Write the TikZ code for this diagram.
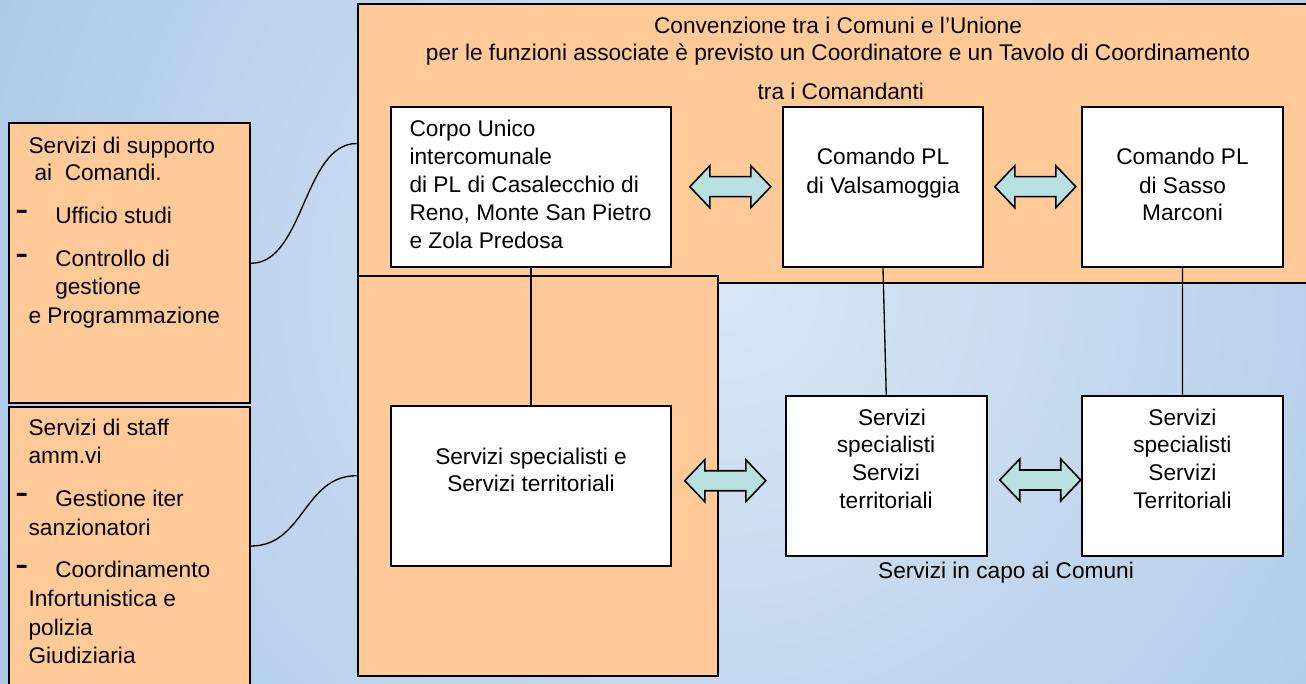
\documentclass[tikz,border=0pt]{standalone}
\usepackage{fontspec}
\setmainfont{Liberation Sans}
\usetikzlibrary{fit}
\definecolor{bgin}{HTML}{D9E7F5}
\definecolor{bgout}{HTML}{8DB3DC}
\definecolor{peach}{HTML}{FFCA97}
\definecolor{aqua}{HTML}{B8E0E1}
\tikzset{
  pbox/.style={draw=black, line width=1.5pt, inner sep=0pt, fill=peach},
  wbox/.style={draw=black, line width=1.5pt, inner sep=0pt, fill=white},
  link/.style={draw=black, line width=1pt},
  txt/.style={inner sep=0pt, font=\fontsize{17}{20}\selectfont},
  lt/.style={txt, anchor=base west},
  ct/.style={txt, anchor=base},
  bul/.style={inner sep=0pt, anchor=base west, font=\fontsize{30}{32}\selectfont},
  arr/.style={draw=black, line width=1.2pt, fill=aqua, line join=miter},
  dblarr/.pic={\path[arr] (-40.5,0) -- (-20.5,-21) -- (-20.5,-10) -- (20.5,-10) -- (20.5,-21) -- (40.5,0) -- (20.5,21) -- (20.5,10) -- (-20.5,10) -- (-20.5,21) -- cycle;}
}
\begin{document}
\begin{tikzpicture}[x=0.75pt, y=-0.75pt]
\useasboundingbox (0,0) rectangle (1306,684);
\clip (0,0) rectangle (1306,684);
\shade[inner color=bgin, outer color=bgout] (725,285) circle (1050pt);

% big orange boxes
\node[pbox, fit={(357.7,4) (1320,283)}] (conv) {};
\node[pbox, fit={(357.7,275.7) (718,675.7)}] (corpobox) {};
\node[pbox, fit={(9.3,123.3) (250,403.3)}] (supp) {};
\node[pbox, fit={(9.3,406.7) (250,685.3)}] (staff) {};

% white boxes
\node[wbox, fit={(391,107.3) (671,267.3)}] (corpo) {};
\node[wbox, fit={(782.7,107.3) (983.3,267.3)}] (valsa) {};
\node[wbox, fit={(1082.3,107.3) (1282.7,267.3)}] (sasso) {};
\node[wbox, fit={(391,406) (671,566)}] (sst) {};
\node[wbox, fit={(786,395.5) (986.5,555.5)}] (srv1) {};
\node[wbox, fit={(1082.3,395.5) (1282.6,555.5)}] (srv2) {};

% connectors
\draw[link] (corpo.south) -- (sst.north);
\draw[link] (valsa.south) -- (srv1.north);
\draw[link] (sasso.south) -- (srv2.north);
\draw[link] (supp.east) .. controls +(53,0) and +(-53,0) .. (conv.west);
\draw[link] (staff.east) .. controls +(53,0) and +(-53,0) .. (corpobox.west);

% double arrows
\pic (a1) at (730.3,186.7) {dblarr};
\pic (a2) at (1035.3,186.7) {dblarr};
\pic (a3) at (725.3,480.7) {dblarr};
\pic (a4) at (1040.2,480) {dblarr};

% top texts
\node[ct] (h1) at (838,33.3) {Convenzione tra i Comuni e l’Unione};
\node[ct] (h2) at (838,61) {per le funzioni associate è previsto un Coordinatore e un Tavolo di Coordinamento};
\node[ct] (h3) at (840.8,100) {tra i Comandanti};

% Corpo Unico
\node[lt] (c1) at (409.3,136.7) {Corpo Unico};
\node[lt] (c2) at (409.3,165) {intercomunale};
\node[lt] (c3) at (409.3,192.7) {di PL di Casalecchio di};
\node[lt] (c4) at (409.3,220.7) {Reno, Monte San Pietro};
\node[lt] (c5) at (409.3,248.3) {e Zola Predosa};

% Valsamoggia
\node[ct] (v1) at (883,165) {Comando PL};
\node[ct] (v2) at (883,193.3) {di Valsamoggia};

% Sasso
\node[ct] (s1) at (1182.5,165) {Comando PL};
\node[ct] (s2) at (1182.5,193.3) {di Sasso};
\node[ct] (s3) at (1182.5,221) {Marconi};

% Servizi specialisti e territoriali
\node[ct] (e1) at (531,464) {Servizi specialisti e};
\node[ct] (e2) at (531,491.7) {Servizi territoriali};

% lower right boxes
\node[ct] (r1) at (892,425) {Servizi};
\node[ct] (r2) at (886,452.7) {specialisti};
\node[ct] (r3) at (886,480) {Servizi};
\node[ct] (r4) at (886,508.3) {territoriali};
\node[ct] (q1) at (1182.4,425) {Servizi};
\node[ct] (q2) at (1182.4,452.7) {specialisti};
\node[ct] (q3) at (1182.4,480) {Servizi};
\node[ct] (q4) at (1182.4,508.3) {Territoriali};
\node[ct] (cap) at (1006,578.3) {Servizi in capo ai Comuni};

% left box 1
\node[lt] (p1) at (28.3,153.3) {Servizi di supporto};
\node[lt] (p2) at (34.3,181) {ai\ \ Comandi.};
\node[bul] (d1) at (14.9,222.8) {-};
\node[lt] (p3) at (55,223.3) {Ufficio studi};
\node[bul] (d2) at (14.9,266.5) {-};
\node[lt] (p4) at (55,266.7) {Controllo di};
\node[lt] (p5) at (55,295) {gestione};
\node[lt] (p6) at (28.3,324) {e Programmazione};

% left box 2
\node[lt] (f1) at (28.3,435.7) {Servizi di staff};
\node[lt] (f2) at (28.3,463.3) {amm.vi};
\node[bul] (d3) at (14.9,505.5) {-};
\node[lt] (f3) at (55,506) {Gestione iter};
\node[lt] (f4) at (28.3,535) {sanzionatori};
\node[bul] (d4) at (14.9,577.8) {-};
\node[lt] (f5) at (55,577.7) {Coordinamento};
\node[lt] (f6) at (28.3,606.7) {Infortunistica e};
\node[lt] (f7) at (28.3,635) {polizia};
\node[lt] (f8) at (28.3,663.3) {Giudiziaria};
\end{tikzpicture}
\end{document}
